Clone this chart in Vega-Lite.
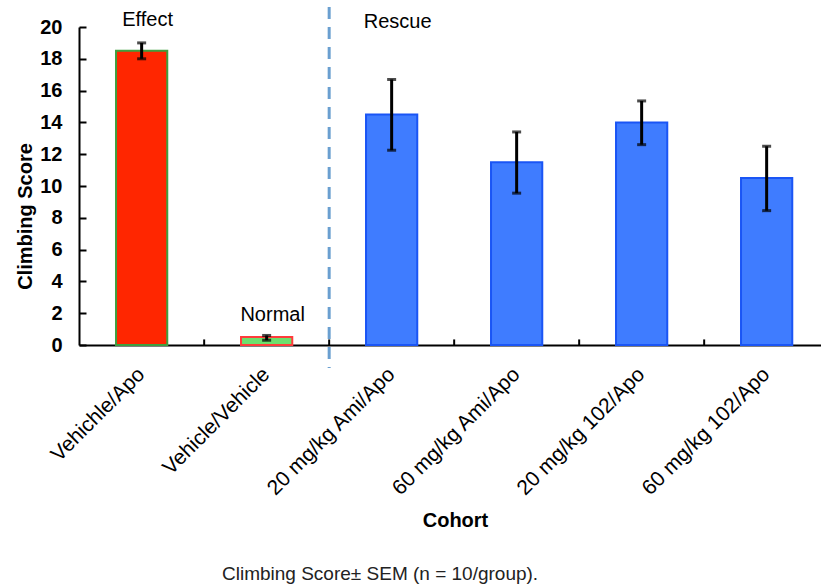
{
  "$schema": "https://vega.github.io/schema/vega-lite/v6.json",
  "width": 742,
  "height": 318,
  "autosize": {"type": "none"},
  "padding": {"left": 79, "top": 27, "right": 0, "bottom": 239},
  "background": "white",
  "config": {
    "view": {"stroke": null},
    "font": "Liberation Sans",
    "axis": {"labelOverlap": false},
    "axisY": {
      "labelOverlap": false,
      "grid": false,
      "domainColor": "black",
      "domainWidth": 2,
      "tickColor": "black",
      "tickWidth": 2,
      "tickSize": -7,
      "labelFont": "Liberation Sans",
      "labelFontSize": 20,
      "labelFontWeight": "bold",
      "labelColor": "black",
      "labelPadding": 24,
      "titleFont": "Liberation Sans",
      "titleFontSize": 20,
      "titleFontWeight": "bold",
      "titleColor": "black",
      "titleAngle": -90,
      "titleX": -54,
      "titleY": 189,
      "titleAlign": "center",
      "titleBaseline": "middle"
    }
  },
  "title": {
    "text": "Climbing Score± SEM (n = 10/group).",
    "orient": "bottom",
    "anchor": "start",
    "frame": "group",
    "font": "Liberation Sans",
    "fontSize": 19,
    "fontWeight": "normal",
    "color": "#222222",
    "baseline": "top",
    "dx": 143,
    "offset": 35
  },
  "datasets": {
    "bars": [
      {"cohort": "Vehichle/Apo", "score": 18.5, "lo": 18.0, "hi": 19.0},
      {"cohort": "Vehicle/Vehicle", "score": 0.5, "lo": 0.3, "hi": 0.6},
      {"cohort": "20 mg/kg Ami/Apo", "score": 14.5, "lo": 12.25, "hi": 16.7},
      {"cohort": "60 mg/kg Ami/Apo", "score": 11.5, "lo": 9.55, "hi": 13.4},
      {"cohort": "20 mg/kg 102/Apo", "score": 14.0, "lo": 12.6, "hi": 15.35},
      {"cohort": "60 mg/kg 102/Apo", "score": 10.5, "lo": 8.45, "hi": 12.5}
    ],
    "notes": [
      {"cohort": "Vehichle/Apo", "label": "Effect", "pos": 20.44},
      {"cohort": "Vehicle/Vehicle", "label": "Normal", "pos": 1.9},
      {"cohort": "20 mg/kg Ami/Apo", "label": "Rescue", "pos": 20.3}
    ]
  },
  "layer": [
    {
      "data": {"name": "bars"},
      "mark": {"type": "bar", "strokeWidth": 2},
      "encoding": {
        "x": {
          "field": "cohort",
          "type": "nominal",
          "sort": ["Vehichle/Apo", "Vehicle/Vehicle", "20 mg/kg Ami/Apo", "60 mg/kg Ami/Apo", "20 mg/kg 102/Apo", "60 mg/kg 102/Apo"],
          "scale": {"paddingInner": 0.59, "paddingOuter": 0.263, "align": 0.563},
          "axis": {
            "title": "Cohort",
            "labelAngle": -45,
            "labelAlign": "right",
            "labelBaseline": "middle",
            "labelFont": "Liberation Sans",
            "labelFontSize": 21,
            "labelColor": "black",
            "labelPadding": 26,
            "ticks": false,
            "domainColor": "black",
            "domainWidth": 2,
            "titleFont": "Liberation Sans",
            "titleFontSize": 20,
            "titleFontWeight": "bold",
            "titleColor": "black",
            "titleX": 376,
            "titleY": 165,
            "titleBaseline": "top",
            "labelOverlap": false
          }
        },
        "y": {
          "field": "score",
          "type": "quantitative",
          "scale": {"domain": [0, 20], "nice": false},
          "axis": {"title": "Climbing Score", "values": [0, 2, 4, 6, 8, 10, 12, 14, 16, 18, 20], "labelOverlap": false}
        },
        "fill": {
          "field": "cohort",
          "type": "nominal",
          "scale": {
            "domain": ["Vehichle/Apo", "Vehicle/Vehicle", "20 mg/kg Ami/Apo", "60 mg/kg Ami/Apo", "20 mg/kg 102/Apo", "60 mg/kg 102/Apo"],
            "range": ["#ff2600", "#6ddf6d", "#3f7cff", "#3f7cff", "#3f7cff", "#3f7cff"]
          },
          "legend": null
        },
        "stroke": {
          "field": "cohort",
          "type": "nominal",
          "scale": {
            "domain": ["Vehichle/Apo", "Vehicle/Vehicle", "20 mg/kg Ami/Apo", "60 mg/kg Ami/Apo", "20 mg/kg 102/Apo", "60 mg/kg 102/Apo"],
            "range": ["#3f9f3f", "#ff3b3b", "#1a55f5", "#1a55f5", "#1a55f5", "#1a55f5"]
          },
          "legend": null
        }
      }
    },
    {
      "data": {"name": "bars"},
      "mark": {"type": "rule", "strokeWidth": 3, "color": "black"},
      "encoding": {
        "x": {"field": "cohort", "type": "nominal", "sort": ["Vehichle/Apo", "Vehicle/Vehicle", "20 mg/kg Ami/Apo", "60 mg/kg Ami/Apo", "20 mg/kg 102/Apo", "60 mg/kg 102/Apo"]},
        "y": {"field": "lo", "type": "quantitative", "axis": {"title": "Climbing Score", "values": [0, 2, 4, 6, 8, 10, 12, 14, 16, 18, 20], "labelOverlap": false}},
        "y2": {"field": "hi"}
      }
    },
    {
      "data": {"name": "bars"},
      "mark": {"type": "tick", "size": 9, "thickness": 3, "color": "black", "orient": "horizontal"},
      "encoding": {
        "x": {"field": "cohort", "type": "nominal", "sort": ["Vehichle/Apo", "Vehicle/Vehicle", "20 mg/kg Ami/Apo", "60 mg/kg Ami/Apo", "20 mg/kg 102/Apo", "60 mg/kg 102/Apo"]},
        "y": {"field": "lo", "type": "quantitative", "axis": {"title": "Climbing Score", "values": [0, 2, 4, 6, 8, 10, 12, 14, 16, 18, 20], "labelOverlap": false}}
      }
    },
    {
      "data": {"name": "bars"},
      "mark": {"type": "tick", "size": 9, "thickness": 3, "color": "black", "orient": "horizontal"},
      "encoding": {
        "x": {"field": "cohort", "type": "nominal", "sort": ["Vehichle/Apo", "Vehicle/Vehicle", "20 mg/kg Ami/Apo", "60 mg/kg Ami/Apo", "20 mg/kg 102/Apo", "60 mg/kg 102/Apo"]},
        "y": {"field": "hi", "type": "quantitative", "axis": {"title": "Climbing Score", "values": [0, 2, 4, 6, 8, 10, 12, 14, 16, 18, 20], "labelOverlap": false}}
      }
    },
    {
      "data": {"name": "bars"},
      "mark": {"type": "rule", "strokeWidth": 2, "color": "black"},
      "encoding": {
        "x": {"field": "cohort", "type": "nominal", "bandPosition": 1.72, "sort": ["Vehichle/Apo", "Vehicle/Vehicle", "20 mg/kg Ami/Apo", "60 mg/kg Ami/Apo", "20 mg/kg 102/Apo", "60 mg/kg 102/Apo"]},
        "y": {"datum": 0, "axis": {"title": "Climbing Score", "values": [0, 2, 4, 6, 8, 10, 12, 14, 16, 18, 20], "labelOverlap": false}},
        "y2": {"datum": 0.35}
      }
    },
    {
      "data": {"values": [{"divider": "Effect | Rescue"}]},
      "mark": {"type": "rule", "strokeWidth": 3, "color": "#6a9fd0", "strokeDash": [12, 8]},
      "encoding": {
        "x": {"datum": "Vehicle/Vehicle", "bandPosition": 1.72},
        "y": {"datum": 21.26, "axis": {"title": "Climbing Score", "values": [0, 2, 4, 6, 8, 10, 12, 14, 16, 18, 20], "labelOverlap": false}},
        "y2": {"datum": -1.45}
      }
    },
    {
      "data": {"name": "notes"},
      "mark": {"type": "text", "font": "Liberation Sans", "fontSize": 20, "color": "black", "dx": 6, "baseline": "middle", "align": "center"},
      "encoding": {
        "x": {"field": "cohort", "type": "nominal", "sort": ["Vehichle/Apo", "Vehicle/Vehicle", "20 mg/kg Ami/Apo", "60 mg/kg Ami/Apo", "20 mg/kg 102/Apo", "60 mg/kg 102/Apo"]},
        "y": {"field": "pos", "type": "quantitative", "axis": {"title": "Climbing Score", "values": [0, 2, 4, 6, 8, 10, 12, 14, 16, 18, 20], "labelOverlap": false}},
        "text": {"field": "label"}
      }
    }
  ]
}
